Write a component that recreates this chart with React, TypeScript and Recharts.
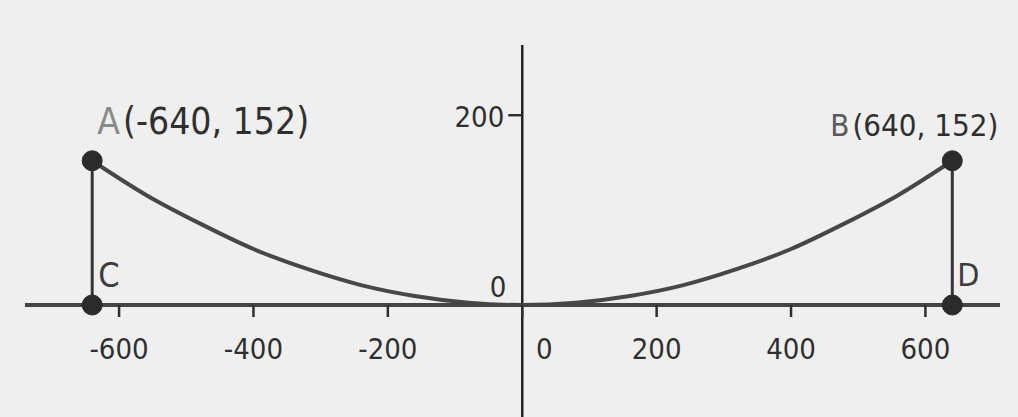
import React from "react";
import { ComposedChart, Line, XAxis, YAxis, ReferenceLine, ReferenceDot } from "recharts";

// parabola, vertex at the origin
const curve = [
  { x: -640, y: 152 },
  { x: -560, y: 116 },
  { x: -480, y: 86 },
  { x: -400, y: 59 },
  { x: -320, y: 38 },
  { x: -240, y: 21 },
  { x: -160, y: 9.5 },
  { x: -80, y: 2.4 },
  { x: 0, y: 0 },
  { x: 80, y: 2.4 },
  { x: 160, y: 9.5 },
  { x: 240, y: 21 },
  { x: 320, y: 38 },
  { x: 400, y: 59 },
  { x: 480, y: 86 },
  { x: 560, y: 116 },
  { x: 640, y: 152 },
];
const leftEdge = [{ x: -640, y: 0 }, { x: -640, y: 152 }];
const rightEdge = [{ x: 640, y: 0 }, { x: 640, y: 152 }];
const points = [
  { name: "A", x: -640, y: 152, text: "(-640, 152)" },
  { name: "B", x: 640, y: 152, text: "(640, 152)" },
  { name: "C", x: -640, y: 0, text: "" },
  { name: "D", x: 640, y: 0, text: "" },
];
const xTicks = [-600, -400, -200, 0, 200, 400, 600];
const yTicks = [0, 200];
const xDomain = [-740, 711];
const yDomain = [0, 274];

const W = 1018;
const H = 417;
const margin = { top: 45, right: 18, bottom: 52, left: 25 };

const font = "'Liberation Sans Narrow', 'DejaVu Sans Condensed', Arial, sans-serif";
const ink = "#2f2f2f";

const labelStyle: Record<string, { dx: number; dy: number; size: number }> = {
  A: { dx: 5, dy: -27, size: 37 },
  B: { dx: -122, dy: -25, size: 31 },
  C: { dx: 6, dy: -18, size: 34 },
  D: { dx: 5, dy: -19, size: 32 },
};

function PointLabel(props: any) {
  const { viewBox, name, text } = props;
  if (!viewBox) return null;
  const cx = viewBox.x + viewBox.width / 2;
  const cy = viewBox.y + viewBox.height / 2;
  const s = labelStyle[name];
  return (
    <text x={cx + s.dx} y={cy + s.dy} fontFamily={font} fontSize={s.size} fill={ink}>
      <tspan fill={name === "A" ? "#8a8a8a" : name === "B" ? "#5a5a5a" : "#3c3c3c"}>{name}</tspan>
      {text ? <tspan dx={3}>{text}</tspan> : null}
    </text>
  );
}

function YLabel(props: any) {
  const { viewBox, value } = props;
  if (!viewBox) return null;
  const cx = viewBox.x + viewBox.width / 2;
  const cy = viewBox.y + viewBox.height / 2;
  if (value === 0) {
    return (
      <text x={cx - 16} y={cy - 8} textAnchor="end" fontFamily={font} fontSize={29} fill={ink}>
        0
      </text>
    );
  }
  return (
    <g>
      <line x1={cx - 14} x2={cx} y1={cy} y2={cy} stroke={ink} strokeWidth={2.5} />
      <text x={cx - 18} y={cy + 12} textAnchor="end" fontFamily={font} fontSize={29} fill={ink}>
        {value}
      </text>
    </g>
  );
}

function XTick(props: any) {
  const { x, y, payload } = props;
  const shift = payload.value === 0 ? 22 : 0;
  return (
    <text x={x + shift} y={y + 40} textAnchor="middle" fontFamily={font} fontSize={29} fill={ink}>
      {payload.value}
    </text>
  );
}

export default function App() {
  return (
    <div style={{ position: "absolute", left: 0, top: 0, width: W, height: H, background: "#efefef" }}>
      <ComposedChart width={W} height={H} margin={margin}>
        <XAxis
          type="number"
          dataKey="x"
          domain={xDomain}
          ticks={xTicks}
          allowDataOverflow
          height={60}
          axisLine={{ stroke: "#444", strokeWidth: 4 }}
          tickLine={{ stroke: ink, strokeWidth: 2.5 }}
          tickSize={12}
          tick={<XTick />}
        />
        <YAxis type="number" domain={yDomain} allowDataOverflow hide />
        <ReferenceLine
          segment={[{ x: 0, y: -120 }, { x: 0, y: 274 }]}
          stroke="#222"
          strokeWidth={2.5}
          ifOverflow="visible"
        />
        {yTicks.map((v) => (
          <ReferenceDot
            key={"y" + v}
            x={0}
            y={v}
            r={1}
            fill="none"
            stroke="none"
            ifOverflow="visible"
            label={<YLabel value={v} />}
          />
        ))}
        <Line data={curve} dataKey="y" type="monotone" stroke="#474747" strokeWidth={4} dot={false} isAnimationActive={false} />
        <Line data={leftEdge} dataKey="y" stroke="#363636" strokeWidth={3} dot={false} isAnimationActive={false} />
        <Line data={rightEdge} dataKey="y" stroke="#363636" strokeWidth={3} dot={false} isAnimationActive={false} />
        {points.map((p) => (
          <ReferenceDot
            key={p.name}
            x={p.x}
            y={p.y}
            r={10}
            fill="#2b2b2b"
            stroke="#2b2b2b"
            ifOverflow="visible"
            label={<PointLabel name={p.name} text={p.text} />}
          />
        ))}
      </ComposedChart>
    </div>
  );
}
